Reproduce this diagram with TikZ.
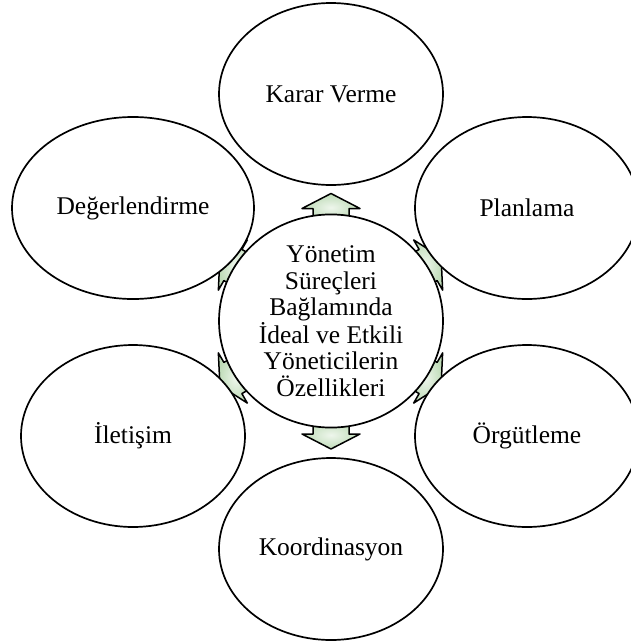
\documentclass[tikz,border=0pt]{standalone}
\usepackage{fontspec}
\setmainfont{Liberation Serif}
\usetikzlibrary{shapes.geometric,backgrounds,calc}
\definecolor{arrowgreen}{RGB}{190,219,183}
\definecolor{arrowlight}{RGB}{238,246,236}
\begin{document}
\begin{tikzpicture}[x=1pt,y=-1pt,
  bubble/.style={ellipse, draw=black, line width=1.7pt, fill=white,
    minimum width=224pt, minimum height=182pt, inner sep=0pt,
    font=\fontsize{25.5}{26.5}\selectfont, align=center},
  blockarrow/.style={draw=black, line width=1.5pt, line join=round,
    inner color=arrowlight, outer color=arrowgreen}
]
\useasboundingbox (0,0) rectangle (631,643);
\clip (0,0) rectangle (631,643);
\node[bubble] (kv) at (331,94) {Karar Verme};
\node[bubble, minimum width=242pt] (de) at (133,208) {Değerlendirme};
\node[bubble] (pl) at (527,208) {Planlama};
\node[bubble] (il) at (133,436) {İletişim};
\node[bubble] (or) at (527,436) {Örgütleme};
\node[bubble] (ko) at (331,549) {Koordinasyon};
\node[bubble] (c) at (331,321) {Yönetim\\Süreçleri\\Bağlamında\\İdeal ve Etkili\\Yöneticilerin\\Özellikleri};
\begin{pgfonlayer}{background}
\foreach \t/\ang in {kv/90, pl/30, or/-30, ko/-90, il/210, de/150}{
  \begin{scope}[shift={($(c)!0.5!(\t)$)}, rotate=\ang]
    \path[blockarrow] (14,0) -- (-1,29) -- (-1,18) -- (-14,18) -- (-14,-18) -- (-1,-18) -- (-1,-29) -- cycle;
  \end{scope}
}
\end{pgfonlayer}
\end{tikzpicture}
\end{document}
